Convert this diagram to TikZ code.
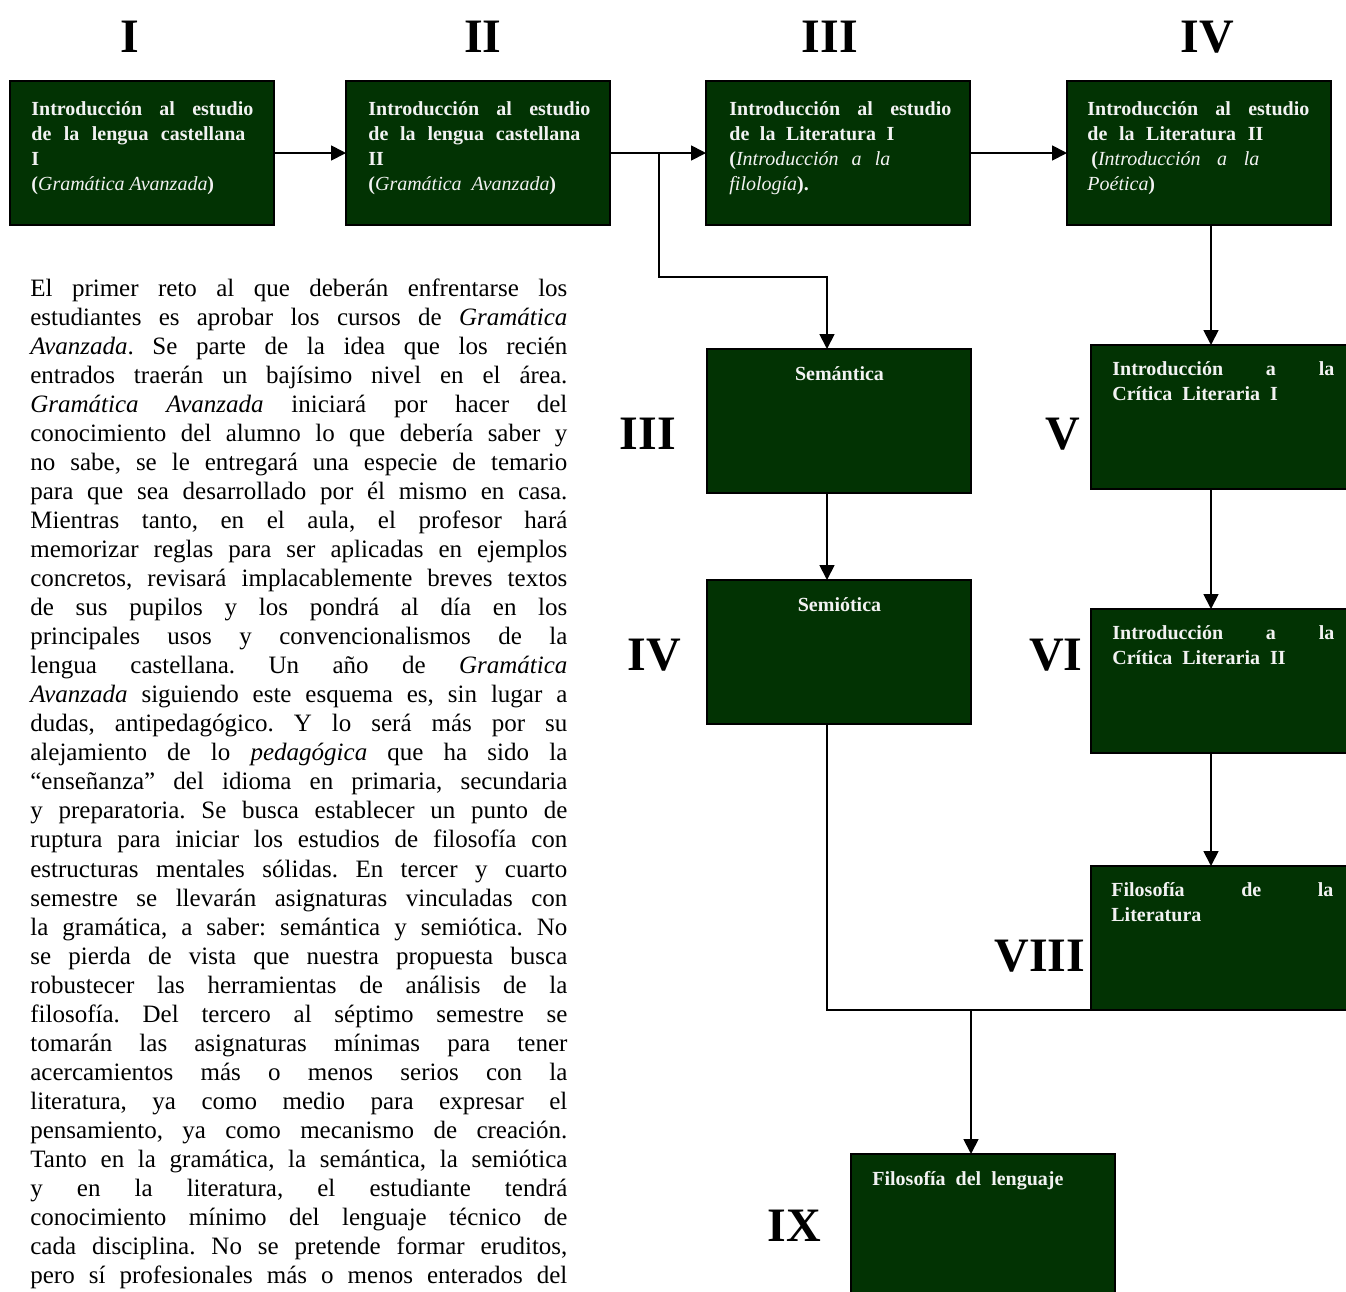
\documentclass[tikz,border=0pt]{standalone}
\usepackage{fontspec}
\setmainfont{Liberation Serif}
\usetikzlibrary{arrows.meta}
\definecolor{boxgreen}{RGB}{2,51,3}
\definecolor{boxtext}{RGB}{242,242,242}
\newcommand{\jl}[1]{\makebox[268.5pt][s]{#1}}
\newcommand{\jb}[2][111pt]{\makebox[#1][s]{#2}}
\newcommand{\im}[1]{\textmd{\itshape #1}}
\frenchspacing
\begin{document}
\begin{tikzpicture}[x=0.5pt,y=-0.5pt,
  gbox/.style={draw=black, line width=1pt, fill=boxgreen, inner sep=0pt, outer sep=0pt,
    minimum width=132pt, minimum height=72pt, anchor=north west},
  btext/.style={anchor=base west, inner sep=0pt, text=boxtext, font=\fontsize{10}{12.5}\selectfont\bfseries},
  ctext/.style={anchor=base, inner sep=0pt, text=boxtext, font=\fontsize{10}{12.5}\selectfont\bfseries},
  numeral/.style={anchor=base, inner sep=0pt, font=\fontsize{24}{28}\selectfont\bfseries},
  flow/.style={line width=0.9pt, -{Triangle[length=7.5pt,width=7.5pt]}},
  wire/.style={line width=0.9pt}
]
\useasboundingbox (0,0) rectangle (1346,1292);
\clip (0,0) rectangle (1346,1292);

% semester numerals
\node[numeral] (n1) at (130,52) {I};
\node[numeral] (n2) at (483,52) {II};
\node[numeral] (n3) at (830,52) {III};
\node[numeral] (n4) at (1207,52) {IV};
\node[numeral] (s3) at (648,449) {III};
\node[numeral] (s4) at (654,670) {IV};
\node[numeral] (s5) at (1063,449) {V};
\node[numeral] (s6) at (1056,670) {VI};
\node[numeral] (s8) at (1040,971) {VIII};
\node[numeral] (s9) at (794,1241) {IX};

% boxes
\node[gbox] (B1) at (10,81) {};
\node[gbox] (B2) at (346,81) {};
\node[gbox] (B3) at (706,81) {};
\node[gbox] (B4) at (1067,81) {};
\node[gbox] (Sem) at (707,349) {};
\node[gbox] (Semio) at (707,580) {};
\node[gbox] (V) at (1091,345) {};
\node[gbox] (VI) at (1091,609) {};
\node[gbox] (FL) at (1091,866) {};
\node[gbox] (FdL) at (851,1154) {};

% box texts
\node[btext] (tB1) at (31,115) {\parbox[t]{111pt}{\jb{Introducción al estudio}\\
  \jb[107pt]{de la lengua castellana}\\ I\\ (\im{Gramática Avanzada})}};
\node[btext] (tB2) at (368,115) {\parbox[t]{111pt}{\jb{Introducción al estudio}\\
  \jb[106pt]{de la lengua castellana}\\ II\\ (\im{Gramática~ Avanzada})}};
\node[btext] (tB3) at (729,115) {\parbox[t]{111pt}{\jb{Introducción al estudio}\\
  \jb[82.5pt]{de la Literatura I}\\ \jb[80.5pt]{(\im{Introducción a la}}\\ \im{filología}).}};
\node[btext] (tB4) at (1087,115) {\parbox[t]{111pt}{\jb{Introducción al estudio}\\
  \jb[88pt]{de la Literatura II}\\ \hspace*{2pt}\jb[84pt]{(\im{Introducción a la}}\\ \im{Poética})}};
\node[ctext] (tSem) at (839.5,380) {Semántica};
\node[ctext] (tSemio) at (839.5,611) {Semiótica};
\node[btext] (tV) at (1112,375) {\parbox[t]{111pt}{\jb{Introducción a la}\\ Crítica~ Literaria~ I}};
\node[btext] (tVI) at (1112,639) {\parbox[t]{111pt}{\jb{Introducción a la}\\ Crítica~ Literaria~ II}};
\node[btext] (tFL) at (1111,896) {\parbox[t]{111pt}{\jb{Filosofía de la}\\ Literatura}};
\node[btext] (tFdL) at (872,1185) {Filosofía~ del~ lenguaje};

% body text
\node[anchor=base west, inner sep=0pt, font=\fontsize{12.5}{14.525}\selectfont] (body) at (30,296) {\parbox[t]{268.5pt}{%
\jl{El primer reto al que deberán enfrentarse los}\\
\jl{estudiantes es aprobar los cursos de \textit{Gramática}}\\
\jl{\textit{Avanzada}. Se parte de la idea que los recién}\\
\jl{entrados traerán un bajísimo nivel en el área.}\\
\jl{\textit{Gramática Avanzada} iniciará por hacer del}\\
\jl{conocimiento del alumno lo que debería saber y}\\
\jl{no sabe, se le entregará una especie de temario}\\
\jl{para que sea desarrollado por él mismo en casa.}\\
\jl{Mientras tanto, en el aula, el profesor hará}\\
\jl{memorizar reglas para ser aplicadas en ejemplos}\\
\jl{concretos, revisará implacablemente breves textos}\\
\jl{de sus pupilos y los pondrá al día en los}\\
\jl{principales usos y convencionalismos de la}\\
\jl{lengua castellana. Un año de \textit{Gramática}}\\
\jl{\textit{Avanzada} siguiendo este esquema es, sin lugar a}\\
\jl{dudas, antipedagógico. Y lo será más por su}\\
\jl{alejamiento de lo \textit{pedagógica} que ha sido la}\\
\jl{“enseñanza” del idioma en primaria, secundaria}\\
\jl{y preparatoria. Se busca establecer un punto de}\\
\jl{ruptura para iniciar los estudios de filosofía con}\\
\jl{estructuras mentales sólidas. En tercer y cuarto}\\
\jl{semestre se llevarán asignaturas vinculadas con}\\
\jl{la gramática, a saber: semántica y semiótica. No}\\
\jl{se pierda de vista que nuestra propuesta busca}\\
\jl{robustecer las herramientas de análisis de la}\\
\jl{filosofía. Del tercero al séptimo semestre se}\\
\jl{tomarán las asignaturas mínimas para tener}\\
\jl{acercamientos más o menos serios con la}\\
\jl{literatura, ya como medio para expresar el}\\
\jl{pensamiento, ya como mecanismo de creación.}\\
\jl{Tanto en la gramática, la semántica, la semiótica}\\
\jl{y en la literatura, el estudiante tendrá}\\
\jl{conocimiento mínimo del lenguaje técnico de}\\
\jl{cada disciplina. No se pretende formar eruditos,}\\
\jl{pero sí profesionales más o menos enterados del}}};

% connectors
\draw[flow] (B1.east) -- (B2.west);
\draw[flow] (B2.east) -- (B3.west);
\draw[flow] (B3.east) -- (B4.west);
\coordinate (j1) at (659,153);
\coordinate (j2) at (827,277);
\draw[flow] (j1) |- (j2) -- (j2 |- Sem.north);
\draw[flow] (j2 |- Sem.south) -- (j2 |- Semio.north);
\coordinate (cR) at (1211,0);
\draw[flow] (cR |- B4.south) -- (cR |- V.north);
\draw[flow] (cR |- V.south) -- (cR |- VI.north);
\draw[flow] (cR |- VI.south) -- (cR |- FL.north);
\draw[wire] (j2 |- Semio.south) |- (FL.south west);
\coordinate (j3) at (971,0);
\draw[flow] (j3 |- FL.south) -- (j3 |- FdL.north);
\end{tikzpicture}
\end{document}
